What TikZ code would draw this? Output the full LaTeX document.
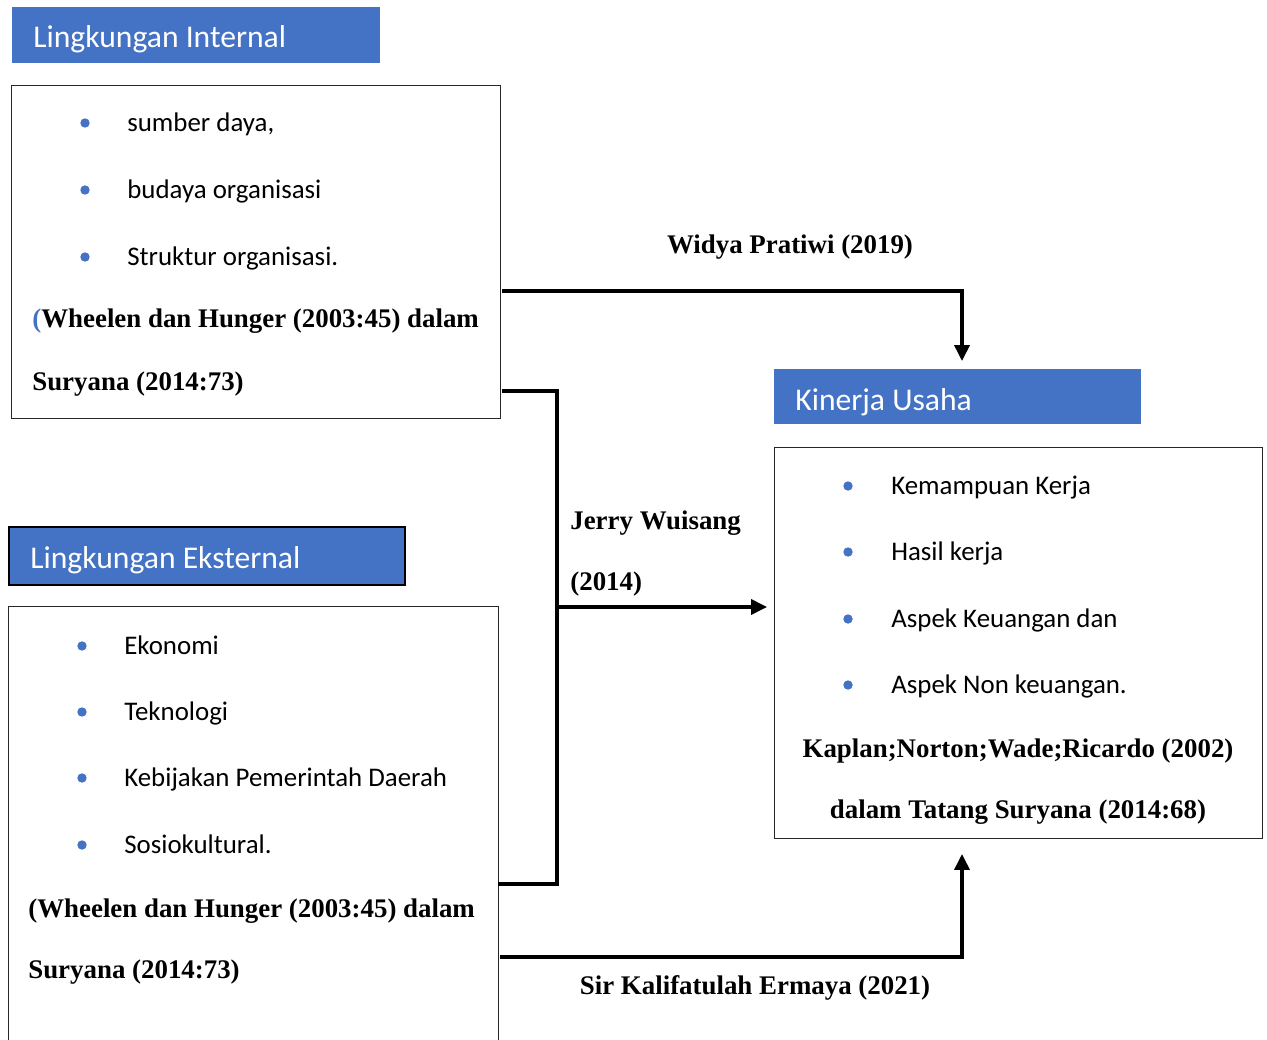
\documentclass[tikz,border=0pt]{standalone}
\usepackage{fontspec}
\setmainfont{Liberation Serif}
\newfontfamily\calibri{Carlito}
\usepackage{tikz}
\usetikzlibrary{positioning}
\usetikzlibrary{calc}
\usetikzlibrary{arrows.meta}
\definecolor{hdrblue}{RGB}{68,114,196}

\begin{document}
\begin{tikzpicture}[x=0.02cm, y=-0.02cm,
  >={Triangle[length=9pt,width=8.5pt]},
  header/.style={fill=hdrblue, inner sep=0pt, minimum height=56*0.02cm},
  hdrtext/.style={anchor=base west, inner sep=0pt, text=white, font=\calibri\fontsize{18}{20}\selectfont},
  frame/.style={draw=black!85, line width=0.6pt, inner sep=0pt, anchor=north west},
  item/.style={anchor=base west, inner sep=0pt, font=\calibri\fontsize{15.3}{18}\selectfont},
  cite/.style={inner sep=0pt, font=\bfseries\fontsize{15.3}{18}\selectfont},
  link/.style={line width=1.9pt}]

\useasboundingbox (0,0) rectangle (1267,1040);

%---------------------------------------
% Lingkungan Internal
%---------------------------------------
\node[header, anchor=north west, minimum width=368*0.02cm] (intHead) at (12,7) {};
\node[hdrtext] (intTitle) at (33,48) {Lingkungan Internal};

\node[frame, minimum width=489*0.02cm, minimum height=333*0.02cm] (intBox) at (11,85) {};

\fill[hdrblue] (85,123) circle (4.7);
\fill[hdrblue] (85,190) circle (4.7);
\fill[hdrblue] (85,257) circle (4.7);
\node[item] (intItemA) at (127,131.5) {sumber daya,};
\node[item] (intItemB) at (127,198.5) {budaya organisasi};
\node[item] (intItemC) at (127,265.5) {Struktur organisasi.};

\node[cite, anchor=base west] (intCiteA) at (32,328) {\textcolor{hdrblue}{(}Wheelen dan Hunger (2003:45) dalam};
\node[cite, anchor=base west] (intCiteB) at (32,390) {Suryana (2014:73)};

%---------------------------------------
% Lingkungan Eksternal
%---------------------------------------
\node[header, draw=black, line width=1.4pt, anchor=north west, minimum width=396*0.02cm, minimum height=58*0.02cm] (extHead) at (8,526) {};
\node[hdrtext] (extTitle) at (30,568) {Lingkungan Eksternal};

\node[frame, minimum width=490*0.02cm, minimum height=440*0.02cm] (extBox) at (8,606) {};

\fill[hdrblue] (82,646) circle (4.7);
\fill[hdrblue] (82,712) circle (4.7);
\fill[hdrblue] (82,778) circle (4.7);
\fill[hdrblue] (82,845) circle (4.7);
\node[item] (extItemA) at (124,654.5) {Ekonomi};
\node[item] (extItemB) at (124,720.5) {Teknologi};
\node[item] (extItemC) at (124,786.5) {Kebijakan Pemerintah Daerah};
\node[item] (extItemD) at (124,853.5) {Sosiokultural.};

\node[cite, anchor=base west] (extCiteA) at (28,917) {(Wheelen dan Hunger (2003:45) dalam};
\node[cite, anchor=base west] (extCiteB) at (28,978) {Suryana (2014:73)};

%---------------------------------------
% Kinerja Usaha
%---------------------------------------
\node[header, anchor=north west, minimum width=367*0.02cm, minimum height=55*0.02cm] (kinHead) at (774,369) {};
\node[hdrtext] (kinTitle) at (795,410) {Kinerja Usaha};

\node[frame, minimum width=488*0.02cm, minimum height=391*0.02cm] (kinBox) at (774,447) {};

\fill[hdrblue] (848,486) circle (4.7);
\fill[hdrblue] (848,552) circle (4.7);
\fill[hdrblue] (848,619) circle (4.7);
\fill[hdrblue] (848,685) circle (4.7);
\node[item] (kinItemA) at (891,494.5) {Kemampuan Kerja};
\node[item] (kinItemB) at (891,560.5) {Hasil kerja};
\node[item] (kinItemC) at (891,627.5) {Aspek Keuangan dan};
\node[item] (kinItemD) at (891,693.5) {Aspek Non keuangan.};

\node[cite, anchor=base] (kinCiteA) at (1018,757) {Kaplan;Norton;Wade;Ricardo (2002)};
\node[cite, anchor=base] (kinCiteB) at (1018,818) {dalam Tatang Suryana (2014:68)};

%---------------------------------------
% Connectors
%---------------------------------------
% Widya Pratiwi
\coordinate (wStart) at (502,291);
\coordinate (wEnd) at (962,361);
\draw[link,->] (wStart) -| (wEnd);
\node[cite, anchor=base] (wLabel) at (790,254) {Widya Pratiwi (2019)};

% Jerry Wuisang
\coordinate (jTop) at (502,391);
\coordinate (jCorner) at (557,884);
\coordinate (jBot) at (498,884);
\coordinate (jMid) at (557,607);
\coordinate (jEnd) at (767,607);
\draw[link] (jTop) -| (jCorner) -- (jBot);
\draw[link,->] (jMid) -- (jEnd);
\node[cite, anchor=base west] (jLabelA) at (570,529) {Jerry Wuisang};
\node[cite, anchor=base west] (jLabelB) at (570,590) {(2014)};

% Sir Kalifatulah Ermaya
\coordinate (sStart) at (500,957);
\coordinate (sEnd) at (962,854);
\draw[link,->] (sStart) -| (sEnd);
\node[cite, anchor=base] (sLabel) at (755,994) {Sir Kalifatulah Ermaya (2021)};

\end{tikzpicture}
\end{document}
